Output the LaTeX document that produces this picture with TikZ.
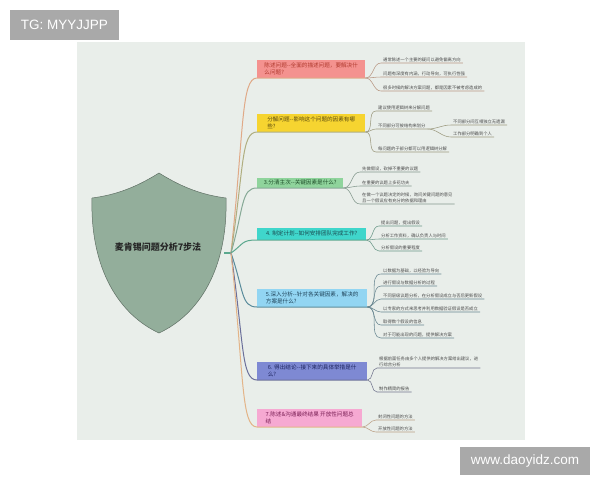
\documentclass[tikz,border=0pt]{standalone}
\usepackage{fontspec}
\setmainfont{Liberation Sans}
\newfontfamily\cjk{Noto Sans CJK SC}

\definecolor{panel}{HTML}{E9EEEA}
\definecolor{wmgray}{HTML}{A9A9A9}
\definecolor{shieldfill}{HTML}{93AE9B}
\definecolor{shieldline}{HTML}{5F6F64}
\definecolor{leaftext}{HTML}{4A4A4A}
% box fills and texts
\definecolor{p1}{HTML}{F4928F}\definecolor{t1}{HTML}{B03A2E}
\definecolor{p2}{HTML}{F6D430}\definecolor{t2}{HTML}{5A4A10}
\definecolor{p3}{HTML}{8FD49C}\definecolor{t3}{HTML}{1F4F2A}
\definecolor{p4}{HTML}{3FD6CB}\definecolor{t4}{HTML}{1A4A50}
\definecolor{p5}{HTML}{92D5F2}\definecolor{t5}{HTML}{20445A}
\definecolor{p6}{HTML}{7E89D3}\definecolor{t6}{HTML}{1E2560}
\definecolor{p7}{HTML}{F6A9D2}\definecolor{t7}{HTML}{7A1F55}
% branch lines
\definecolor{c1}{HTML}{E0A987}
\definecolor{c2}{HTML}{B0AE80}
\definecolor{c3}{HTML}{86A996}
\definecolor{c4}{HTML}{5BA88E}
\definecolor{c5}{HTML}{5A8C9C}
\definecolor{c6}{HTML}{6B6F9A}
\definecolor{c7}{HTML}{E3B488}

\tikzset{
  topic/.style={anchor=south west, inner xsep=3pt, inner ysep=2.5pt, align=left,
    font=\cjk\fontsize{5.6}{7}\selectfont},
  leaf/.style={anchor=south west, inner xsep=2pt, inner ysep=1.2pt, align=left,
    text=leaftext, font=\cjk\fontsize{4.3}{5.3}\selectfont},
  branch/.style={line width=1pt, #1},
  twig/.style={line width=0.55pt, #1!60!gray},
  wmbox/.style={fill=wmgray, text=white, inner sep=0pt},
}

\begin{document}
\begin{tikzpicture}[x=1pt,y=-1pt]
\useasboundingbox (0,0) rectangle (600,480);
\fill[white] (0,0) rectangle (600,480);
\fill[panel] (77,42) rectangle (525,440);

% watermarks
\node[wmbox, minimum width=109, minimum height=30, font=\fontsize{13.5}{15}\selectfont] (tg) at (64.5,25) {TG: MYYJJPP};
\node[wmbox, minimum width=130, minimum height=28, font=\fontsize{13.5}{15}\selectfont] (site) at (525,461) {www.daoyidz.com};

% shield
\draw[shieldline, fill=shieldfill, line width=0.5pt] (159,173) .. controls (135,188) and (115,195) .. (92,198)
  .. controls (90,270) and (120,315) .. (159,333)
  .. controls (198,315) and (228,270) .. (226,198)
  .. controls (203,195) and (183,188) .. (159,173) -- cycle;
\node[font=\cjk\bfseries\fontsize{9}{10}\selectfont, text=black!85] (title) at (158,247) {麦肯锡问题分析7步法};
\coordinate (shieldr) at (224,253);
\coordinate (root) at (231,253);
\draw[branch=c4, line width=1.6pt] (shieldr) -- (root);

% main topics
\node[topic, fill=p1, text=t1, minimum width=108, inner ysep=3pt] (b1) at (257,78) {陈述问题--全面的描述问题，要解决什\\么问题?};
\node[topic, fill=p2, text=t2, minimum width=108, inner ysep=3pt] (b2) at (257,132) {分解问题--影响这个问题的因素有哪\\些?};
\node[topic, fill=p3, text=t3, minimum width=86] (b3) at (257,188) {3.分清主次--关键因素是什么?};
\node[topic, fill=p4, text=t4, minimum width=109, inner ysep=3.5pt] (b4) at (257,240) {4. 制定计划--如何安排团队完成工作?};
\node[topic, fill=p5, text=t5, minimum width=110, inner ysep=3pt] (b5) at (257,307) {5.深入分析--针对各关键因素，解决的\\方案是什么?};
\node[topic, fill=p6, text=t6, minimum width=110, inner ysep=3pt] (b6) at (257,380) {6. 得出结论--接下来的具体举措是什\\么?};
\node[topic, fill=p7, text=t7, minimum width=105, inner ysep=3pt] (b7) at (257,427) {7.陈述\&沟通最终结果 开放性问题总\\结};

% leaves
\node[leaf] (l11) at (381,63) {通常陈述一个主要的疑问以避免偏离方向};
\node[leaf] (l12) at (381,77) {问题有深度有内涵，行动导向，可执行性强};
\node[leaf] (l13) at (381,91) {很多时候的解决方案问题，都是因素不被考虑造成的};

\node[leaf] (l21) at (376,111) {建议使用逻辑树来分解问题};
\node[leaf] (l22) at (376,129) {不同部分可按结构来划分};
\node[leaf] (l23) at (376,152) {每问题的子部分都可以用逻辑树分解};
\node[leaf] (s21) at (451,125) {不同部分间互相独立无遗漏};
\node[leaf] (s22) at (451,137) {工作部分明确到个人};

\node[leaf] (l31) at (360,172) {先做假设，砍掉不重要的议题};
\node[leaf] (l32) at (360,186) {在重要的议题上多花功夫};
\node[leaf] (l33) at (360,204) {在做一个议题决定的时候，询问关键问题的意见\\且一个假设应有充分的依据和理由};

\node[leaf] (l41) at (379,226) {提出问题，提出假设};
\node[leaf] (l42) at (379,239) {分析工作资料，确认负责人与时间};
\node[leaf] (l43) at (379,251) {分析假设的重要程度};

\node[leaf] (l51) at (381,274) {以数据为基础，以经验为导向};
\node[leaf] (l52) at (381,286) {进行假设与数据分析的过程};
\node[leaf] (l53) at (381,299) {不同层级议题分析，在分析假设成立与否后更新假设};
\node[leaf] (l54) at (381,312) {以专家的方式来思考并利用数据验证假设是否成立};
\node[leaf] (l55) at (381,325) {取得数个假设的信息};
\node[leaf] (l56) at (381,338) {对于可能出现的问题，提供解决方案};

\node[leaf] (l61) at (377,368) {根据前面任务由多个人提供的解决方案给出建议，进\\行综合分析};
\node[leaf] (l62) at (377,392) {制作精简的报告};

\node[leaf] (l71) at (376,420) {封闭性问题的方法};
\node[leaf] (l72) at (376,432) {开放性问题的方法};

% branches from the root
\foreach \i/\y/\c in {1/78/c1, 2/132/c2, 3/188/c3, 4/240/c4, 5/307/c5, 6/380/c6, 7/427/c7}
  \draw[branch=\c] (root) .. controls (244,{\y+(253-\y)*0.3}) and (241,\y) .. (b\i.south west) -- (b\i.south east);

% twigs to the leaves
\foreach \b/\l/\c in {1/11/c1, 1/12/c1, 1/13/c1, 2/21/c2, 2/22/c2, 2/23/c2,
    3/31/c3, 3/32/c3, 3/33/c3, 4/41/c4, 4/42/c4, 4/43/c4,
    5/51/c5, 5/52/c5, 5/53/c5, 5/54/c5, 5/55/c5, 5/56/c5,
    6/61/c6, 6/62/c6, 7/71/c7, 7/72/c7}
  \draw[twig=\c] (b\b.south east) to[out=0, in=180] (l\l.south west) -- (l\l.south east);
\foreach \s in {21,22}
  \draw[twig=c2] (l22.south east) to[out=0, in=180] (s\s.south west) -- (s\s.south east);
\end{tikzpicture}
\end{document}
